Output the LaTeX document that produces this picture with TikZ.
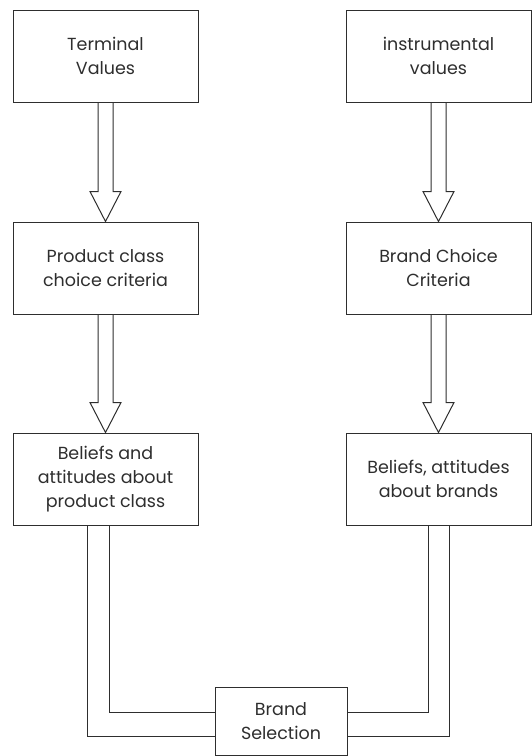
\documentclass[tikz,border=0pt]{standalone}
\usepackage{fontspec}
\setmainfont{Poppins}
\usetikzlibrary{positioning,calc}
\definecolor{ink}{HTML}{2E2E2E}

\begin{document}
\begin{tikzpicture}[x=1pt,y=-1pt,line width=1pt,
	every node/.style={font=\fontsize{17.5}{24}\selectfont,text=ink},
	box/.style={draw=ink,rectangle,align=center,minimum width=185pt,minimum height=92pt,inner sep=2pt},
	hollow/.style={draw=ink,line join=miter},
	pipe/.style={draw=ink}]
	
	\useasboundingbox (0,0) rectangle (532,756);
	
	% left column
	\node[box] (tv) at (105.5,56) {Terminal\\Values};
	\node[box] (pcc) at (105.5,268) {Product class\\choice criteria};
	\node[box] (bapc) at (105.5,479) {Beliefs and\\attitudes about\\product class};
	
	% right column
	\node[box] (iv) at (438.5,56) {instrumental\\values};
	\node[box] (bcc) at (438.5,268) {Brand Choice\\Criteria};
	\node[box] (bab) at (438.5,479) {Beliefs, attitudes\\about brands};
	
	% selection box at the bottom
	\node[box,minimum width=132pt,minimum height=68pt] (bs) at (281,721) {Brand\\Selection};
	
	% draw hollow arrows between the boxes
	\foreach \a/\b in {tv/pcc,pcc/bapc,iv/bcc,bcc/bab}
	{
		\draw[hollow] let \p1=(\a.south), \p2=(\b.north) in
			(\x1-7.5pt,\y1) -- (\x1-7.5pt,\y2+30pt) -- (\x1-15.5pt,\y2+30pt) -- (\x1,\y2)
			-- (\x1+15.5pt,\y2+30pt) -- (\x1+7.5pt,\y2+30pt) -- (\x1+7.5pt,\y1);
	}
	
	% draw double lines into the selection box
	\draw[pipe] ([xshift=-18.5pt]bapc.south) |- ([yshift=-15pt]bs.west);
	\draw[pipe] ([xshift=3.5pt]bapc.south) |- ([yshift=9pt]bs.west);
	\draw[pipe] ([xshift=10.5pt]bab.south) |- ([yshift=-15pt]bs.east);
	\draw[pipe] ([xshift=-10.5pt]bab.south) |- ([yshift=9pt]bs.east);
\end{tikzpicture}
\end{document}
